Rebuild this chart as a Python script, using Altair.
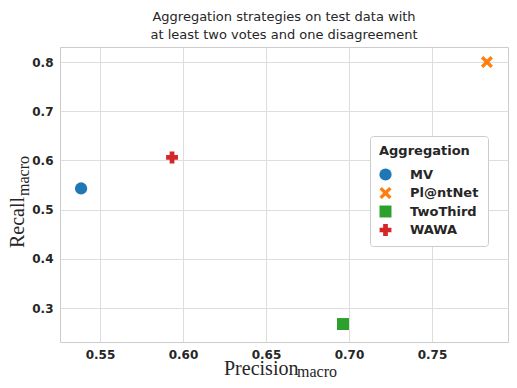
import altair as alt
import pandas as pd

methods = ["MV", "Pl@ntNet", "TwoThird", "WAWA"]
precision = [0.5386, 0.7831, 0.6964, 0.5934]
recall = [0.543, 0.800, 0.2675, 0.606]
colors = ["#1f77b4", "#ff7f0e", "#2ca02c", "#d62728"]
x_ticks = [0.55, 0.60, 0.65, 0.70, 0.75]
y_ticks = [0.3, 0.4, 0.5, 0.6, 0.7, 0.8]
title_lines = ["Aggregation strategies on test data with", "at least two votes and one disagreement"]

X_PATH = "M-1,-0.6L-0.6,-1L0,-0.4L0.6,-1L1,-0.6L0.4,0L1,0.6L0.6,1L0,0.4L-0.6,1L-1,0.6L-0.4,0Z"
shapes = ["circle", X_PATH, "square", "cross"]
sizes = [150, 140, 64, 160]

df = pd.DataFrame({"Aggregation": methods, "p": precision, "r": recall})

W, H = 448, 295

points = alt.Chart(df).mark_point(filled=True, opacity=1, strokeWidth=0).encode(
    x=alt.X("p:Q", scale=alt.Scale(domain=[0.5259, 0.7958], nice=False, zero=False),
            axis=alt.Axis(values=x_ticks, format=".2f", title=None)),
    y=alt.Y("r:Q", scale=alt.Scale(domain=[0.231, 0.8305], nice=False, zero=False),
            axis=alt.Axis(values=y_ticks, format=".1f", title=None)),
    color=alt.Color("Aggregation:N", scale=alt.Scale(domain=methods, range=colors),
                    legend=alt.Legend(title="Aggregation", orient="none", legendX=310, legendY=89)),
    shape=alt.Shape("Aggregation:N", scale=alt.Scale(domain=methods, range=shapes)),
    size=alt.Size("Aggregation:N", scale=alt.Scale(domain=methods, range=sizes)),
)

serif = "Liberation Serif"
one = pd.DataFrame({"a": [0]})

xt1 = alt.Chart(one).mark_text(text="Precision", font=serif, fontSize=20, align="left",
                               baseline="alphabetic", color="#262626").encode(
    x=alt.value(164), y=alt.value(328))
xt2 = alt.Chart(one).mark_text(text="macro", font=serif, fontSize=16, align="left",
                               baseline="alphabetic", color="#262626").encode(
    x=alt.value(237), y=alt.value(330))
yt1 = alt.Chart(one).mark_text(text="Recall", font=serif, fontSize=20, align="left", angle=270,
                               baseline="alphabetic", color="#262626").encode(
    x=alt.value(-36), y=alt.value(201))
yt2 = alt.Chart(one).mark_text(text="macro", font=serif, fontSize=16, align="left", angle=270,
                               baseline="alphabetic", color="#262626").encode(
    x=alt.value(-31), y=alt.value(149))

chart = alt.layer(points, xt1, xt2, yt1, yt2).properties(
    width=W, height=H,
    title=alt.TitleParams(text=title_lines, fontSize=13, font="DejaVu Sans", fontWeight="normal",
                          color="#262626", anchor="middle", offset=5, lineHeight=18),
    padding={"left": 52, "top": 39, "right": 1, "bottom": 38},
    autosize=alt.AutoSizeParams(type="none"),
).configure_view(stroke="#cccccc", strokeWidth=1).configure_axis(
    grid=True, gridColor="#dddddd", gridWidth=1, ticks=False, domain=False,
    labelFont="DejaVu Sans", labelFontSize=12, labelFontWeight="bold", labelColor="#262626",
    labelPadding=7,
).configure_legend(
    strokeColor="#cccccc", cornerRadius=3, fillColor="white", padding=9,
    titleFont="DejaVu Sans", titleFontSize=13, titleFontWeight="bold", titleColor="#262626",
    titlePadding=10,
    labelFont="DejaVu Sans", labelFontSize=13, labelFontWeight="bold", labelColor="#262626",
    rowPadding=4.5, labelOffset=18, symbolOpacity=1, symbolStrokeWidth=0,
)

chart.save("out.html", embed_options={"renderer": "svg", "actions": False})
